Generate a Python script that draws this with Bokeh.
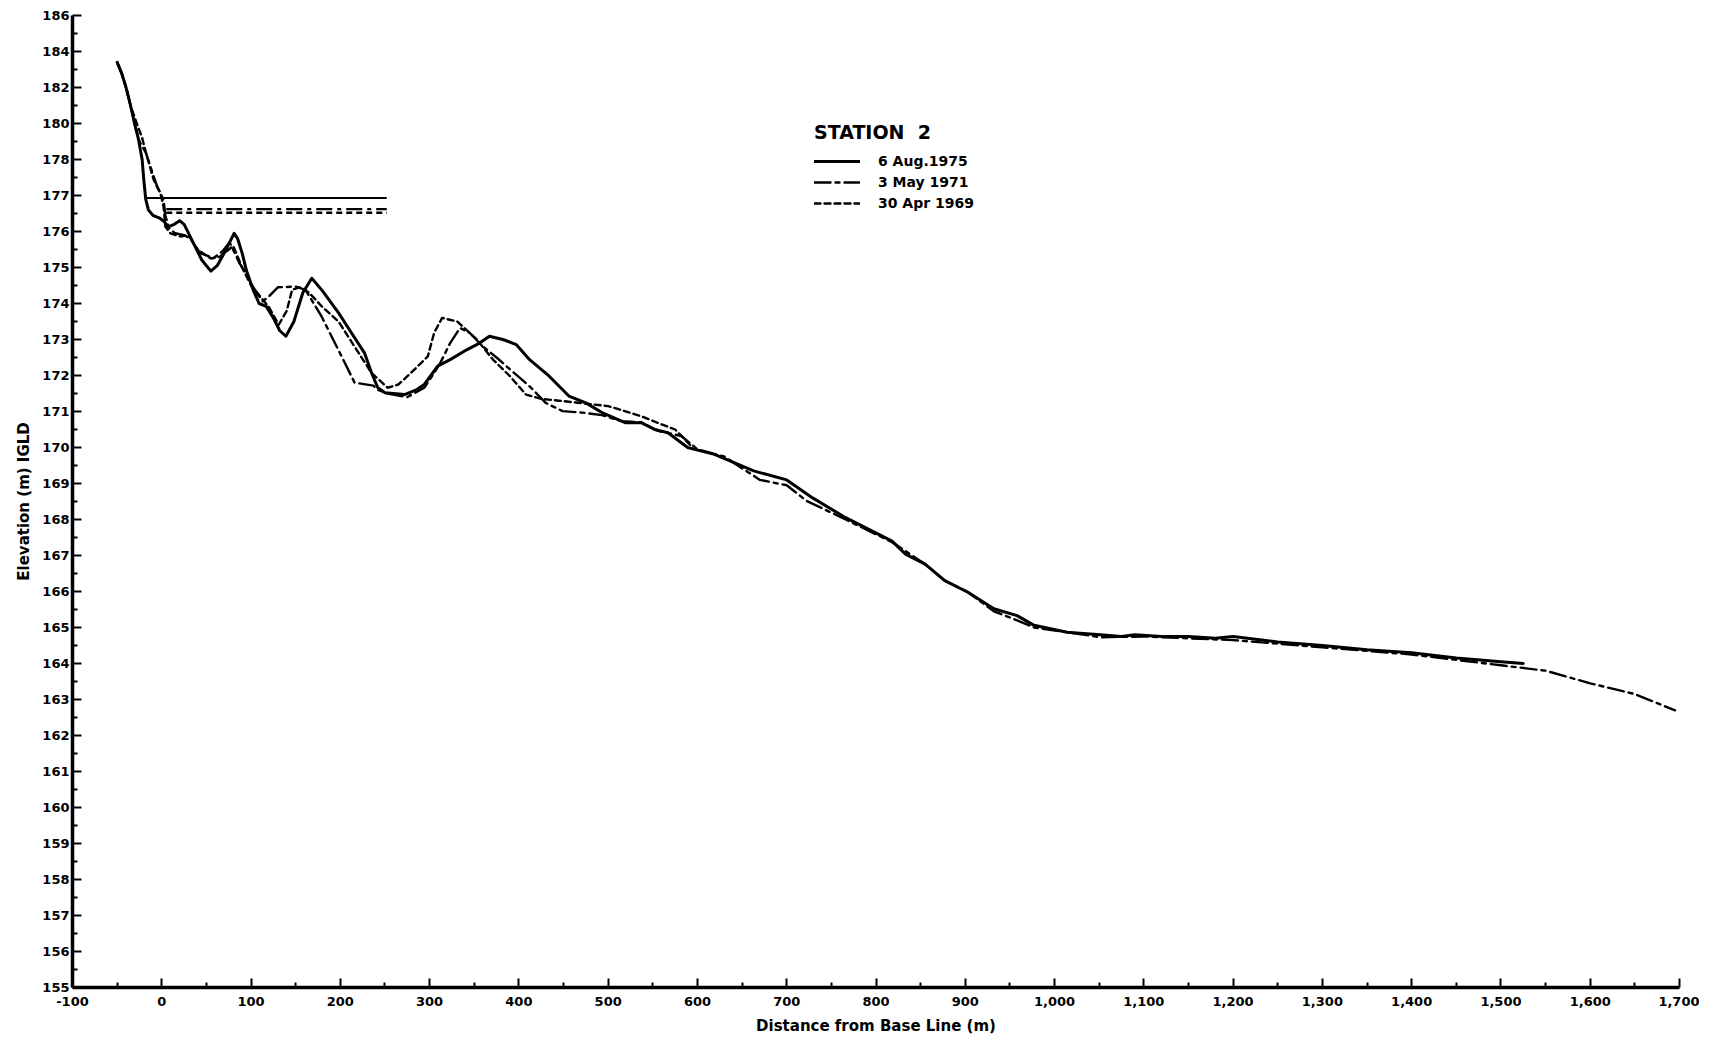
from bokeh.plotting import figure
from bokeh.models import (ColumnDataSource, FixedTicker, NumeralTickFormatter, Legend,
                          LegendItem, CustomJSTransform, Range1d)
from bokeh.transform import transform
from bokeh.embed import file_html
from bokeh.resources import INLINE

# ---- data (distance from base line in m, elevation in m IGLD) ----
dist_1975 = [-50, -45, -40, -35, -30, -26, -22, -20, -18, -15, -10, -3, 3, 7, 14, 20, 25, 28, 35, 45,
             55, 62, 70, 76, 81, 85, 90, 95, 102, 109, 117, 125, 132, 139, 148, 158, 168, 180, 198, 212,
             227, 235, 242, 250, 272, 285, 294, 309, 323, 342, 356, 367, 382, 397, 412, 434, 456, 475, 493, 519,
             537, 552, 567, 589, 619, 663, 700, 729, 766, 818, 833, 855, 877, 903, 932, 958, 977, 1014, 1051, 1075,
             1090, 1120, 1150, 1180, 1200, 1250, 1300, 1350, 1400, 1450, 1500, 1525]
elev_1975 = [183.4, 182.8, 182.0, 181.0, 179.9, 179.1, 178.0, 177.4, 176.9, 176.6, 176.45, 176.38, 176.27, 176.13, 176.2, 176.3, 176.2, 176.05, 175.7, 175.2,
             174.9, 175.05, 175.4, 175.7, 175.95, 175.8, 175.4, 174.9, 174.4, 174.0, 173.92, 173.6, 173.25, 173.09, 173.5, 174.3, 174.7, 174.35, 173.74, 173.2,
             172.63, 172.07, 171.66, 171.52, 171.47, 171.6, 171.75, 172.26, 172.44, 172.72, 172.9, 173.09, 173.0, 172.86, 172.44, 171.98, 171.43, 171.24, 170.97, 170.69,
             170.69, 170.5, 170.41, 170.0, 169.81, 169.35, 169.1, 168.6, 168.05, 167.4, 167.04, 166.76, 166.3, 165.98, 165.52, 165.33, 165.06, 164.87, 164.8, 164.75,
             164.8, 164.75, 164.75, 164.7, 164.75, 164.6, 164.5, 164.38, 164.3, 164.15, 164.05, 164.0]

dist_1971 = [-50, -45, -40, -35, -30, -25, -18, -10, -5, 2, 4, 8, 15, 25, 32, 43, 58, 68, 76, 87,
             95, 102, 113, 120, 130, 150, 161, 179, 200, 216, 237, 242, 253, 275, 294, 305, 312, 323, 334, 345,
             360, 375, 390, 412, 430, 449, 471, 493, 515, 537, 556, 582, 600, 630, 670, 700, 722, 766, 818, 855,
             877, 903, 932, 958, 977, 1014, 1051, 1100, 1150, 1200, 1250, 1300, 1350, 1400, 1450, 1500, 1550, 1600, 1650, 1695]
elev_1971 = [183.4, 182.8, 182.0, 181.0, 179.9, 179.0, 178.4, 177.6, 177.24, 176.88, 176.45, 176.1, 175.95, 175.9, 175.8, 175.4, 175.26, 175.45, 175.7, 175.12,
             174.8, 174.47, 174.06, 174.2, 174.45, 174.47, 174.38, 173.64, 172.6, 171.8, 171.72, 171.6, 171.5, 171.4, 171.66, 172.07, 172.35, 172.9, 173.32, 173.18,
             172.8, 172.5, 172.17, 171.7, 171.24, 171.01, 170.97, 170.9, 170.73, 170.7, 170.46, 170.32, 169.95, 169.75, 169.1, 168.95, 168.52, 168.0, 167.37, 166.76,
             166.3, 165.98, 165.45, 165.2, 165.0, 164.87, 164.73, 164.75, 164.7, 164.65, 164.55, 164.45, 164.35, 164.25, 164.1, 163.95, 163.8, 163.45, 163.15, 162.7]

dist_1969 = [-50, -45, -40, -35, -28, -22, -18, -9, -1.5, 2, 4, 9.6, 21, 30, 40, 55, 65, 75, 80, 90,
             100, 110, 120, 131, 140, 146, 155, 165, 180, 198, 216, 235, 253, 265, 279, 298, 305, 314, 331, 353,
             371, 390, 408, 425, 445, 464, 500, 537, 560, 575, 593]
elev_1969 = [183.4, 182.8, 182.0, 181.0, 180.0, 179.2, 178.43, 177.43, 177.06, 176.69, 176.14, 175.95, 175.86, 175.9, 175.5, 175.25, 175.3, 175.5, 175.6, 175.0,
             174.5, 174.2, 173.9, 173.41, 173.8, 174.38, 174.45, 174.3, 173.9, 173.5, 172.8, 172.07, 171.66, 171.75, 172.07, 172.53, 173.18, 173.6, 173.5, 173.0,
             172.44, 171.98, 171.47, 171.35, 171.3, 171.25, 171.15, 170.87, 170.64, 170.5, 170.04]

# water levels on survey dates
wl_dist_1975 = [-17, 252]
wl_elev_1975 = [176.93, 176.93]
wl_dist_1971 = [5, 252]
wl_elev_1971 = [176.62, 176.62]
wl_dist_1969 = [5, 252]
wl_elev_1969 = [176.52, 176.52]

labels = ["6 Aug.1975", "3 May 1971", "30 Apr 1969"]
x_ticks = list(range(-100, 1701, 100))
y_ticks_low = list(range(155, 179))        # 155 .. 178 (1 m per step)
y_ticks_high = [180, 182, 184, 186]        # compressed part (2 m per step)

# broken y axis: above 178 m the scale is compressed by half
brk = CustomJSTransform(
    func="return x > 178 ? 178 + (x - 178) / 2 : x;",
    v_func="const out = new Float64Array(xs.length); for (let i = 0; i < xs.length; i++) { const v = xs[i]; out[i] = v > 178 ? 178 + (v - 178) / 2 : v; } return out;",
)

def tr(v):
    return 178 + (v - 178) / 2 if v > 178 else v

FONT = "DejaVu Sans"

p = figure(frame_width=1607, frame_height=972, output_backend="svg", toolbar_location=None,
           x_range=Range1d(-100, 1700), y_range=Range1d(155, tr(186)),
           min_border_left=72, min_border_top=15, min_border_right=20, min_border_bottom=3,
           background_fill_color="white", border_fill_color="white")
p.outline_line_color = None
p.grid.visible = False

def src(d, e):
    return ColumnDataSource(dict(d=d, e=e))

styles = [
    dict(line_color="black", line_width=3.0, line_dash="solid"),
    dict(line_color="black", line_width=2.4, line_dash="16 5 4 5"),
    dict(line_color="black", line_width=2.4, line_dash="6 4"),
]
wl_width = [2.0, 2.2, 2.4]

profiles = [(dist_1975, elev_1975), (dist_1971, elev_1971), (dist_1969, elev_1969)]
waters = [(wl_dist_1975, wl_elev_1975), (wl_dist_1971, wl_elev_1971), (wl_dist_1969, wl_elev_1969)]

renderers = []
for (d, e), (wd, we), st, ww in zip(profiles, waters, styles, wl_width):
    r = p.line("d", transform("e", brk), source=src(d, e), line_join="round", line_cap="round", **st)
    st2 = dict(st)
    st2["line_width"] = ww
    p.line("d", transform("e", brk), source=src(wd, we), **st2)
    renderers.append(r)

# axes
xa = p.xaxis[0]
xa.ticker = FixedTicker(ticks=x_ticks, minor_ticks=[t + 50 for t in x_ticks[:-1]])
xa.formatter = NumeralTickFormatter(format="0,0")
xa.axis_label = "Distance from Base Line (m)"

ya = p.yaxis[0]
ya.ticker = FixedTicker(ticks=[float(t) for t in y_ticks_low] + [tr(t) for t in y_ticks_high],
                        minor_ticks=[t + 0.5 for t in range(155, 182)])
ya.major_label_overrides = {tr(t): str(t) for t in y_ticks_high}
ya.axis_label = "Elevation (m) IGLD"

for ax in (xa, ya):
    ax.axis_line_width = 3.5
    ax.axis_line_color = "black"
    ax.major_tick_in = 9
    ax.major_tick_out = 0
    ax.minor_tick_in = 5
    ax.minor_tick_out = 0
    ax.major_tick_line_width = 2
    ax.minor_tick_line_width = 2
    ax.major_label_text_font = FONT
    ax.major_label_text_font_style = "bold"
    ax.major_label_text_font_size = "13px"
    ax.major_label_text_color = "black"
    ax.axis_label_text_font = FONT
    ax.axis_label_text_font_style = "bold"
    ax.axis_label_text_font_size = "15px"
    ax.axis_label_text_color = "black"

xa.major_label_standoff = 9
xa.axis_label_standoff = 8
ya.major_label_standoff = 3
ya.axis_label_standoff = 6

legend = Legend(
    items=[LegendItem(label=l, renderers=[r]) for l, r in zip(labels, renderers)],
    title="STATION  2",
    location=(742, 776),
    orientation="vertical",
    border_line_color=None,
    background_fill_alpha=0,
    title_text_font=FONT,
    title_text_font_style="bold",
    title_text_font_size="19px",
    title_text_color="black",
    title_standoff=10,
    label_text_font=FONT,
    label_text_font_style="bold",
    label_text_font_size="14px",
    label_text_color="black",
    glyph_width=46,
    glyph_height=14,
    label_standoff=18,
    spacing=5,
    padding=4,
    margin=0,
)
p.add_layout(legend)

open("out.html", "w").write(file_html(p, INLINE))
